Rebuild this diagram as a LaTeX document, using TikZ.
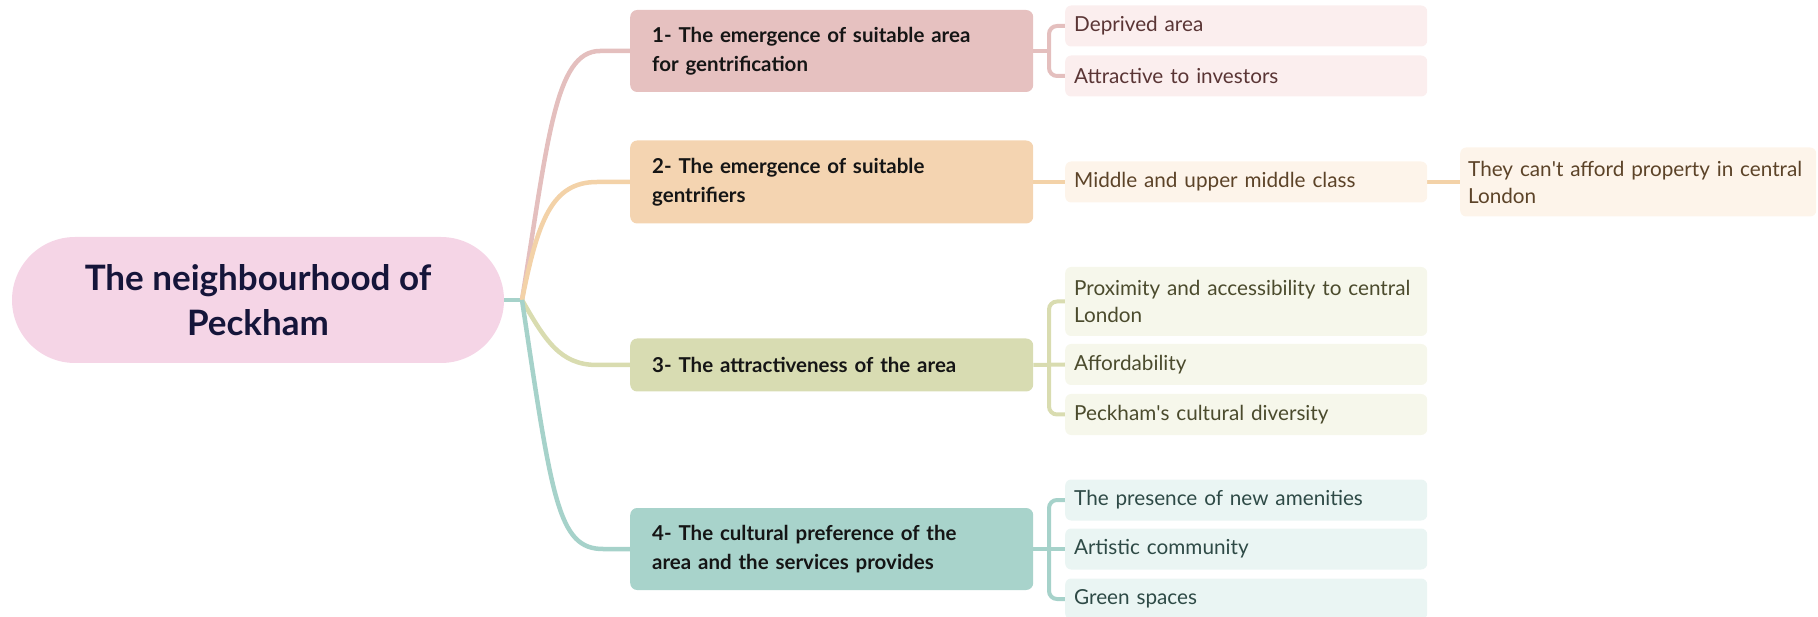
\documentclass[tikz,border=0pt]{standalone}
\usepackage{fontspec}
\setmainfont{Lato}
\usetikzlibrary{backgrounds}
\definecolor{cpink}{HTML}{F5D5E6}
\definecolor{ctext}{HTML}{15153A}
\definecolor{bone}{HTML}{E6C1C0}
\definecolor{btwo}{HTML}{F4D4B1}
\definecolor{bthree}{HTML}{D8DCB2}
\definecolor{bfour}{HTML}{A8D3CB}
\definecolor{lone}{HTML}{FBEEEE}
\definecolor{ltwo}{HTML}{FDF4EA}
\definecolor{lthree}{HTML}{F6F7EB}
\definecolor{lfour}{HTML}{EAF5F3}
\definecolor{tone}{HTML}{5A3535}
\definecolor{ttwo}{HTML}{5C4328}
\definecolor{tthree}{HTML}{4B4B2D}
\definecolor{tfour}{HTML}{2E4A46}
\definecolor{kone}{HTML}{E4BFBE}
\definecolor{ktwo}{HTML}{F3D2A8}
\definecolor{kthree}{HTML}{D9DCB0}
\definecolor{kfour}{HTML}{A6D2CA}
\definecolor{btext}{HTML}{151515}
\begin{document}
\begin{tikzpicture}[x=1pt,y=-1pt,
  centralbox/.style={rectangle, rounded corners=63pt, fill=cpink, minimum width=492pt, minimum height=126pt, align=center, text=ctext, font=\bfseries\fontsize{35}{45}\selectfont},
  branchbox/.style={rectangle, rounded corners=7pt, text width=359pt, inner xsep=22pt, inner ysep=0pt, align=left, anchor=west, text=btext, font=\bfseries\fontsize{20.5}{29.5}\selectfont},
  leafbox/.style={rectangle, rounded corners=6pt, text width=344pt, inner xsep=9pt, inner ysep=0pt, align=left, anchor=west, minimum height=41pt, font=\fontsize{20.7}{27}\selectfont},
  mainlink/.style={line width=4.5pt},
  leaflink/.style={line width=4pt, rounded corners=8pt}
]
\useasboundingbox (0,0) rectangle (1818,617);

\node[centralbox] (c) at (258,300) {The neighbourhood of\\Peckham};

\node[branchbox, fill=bone, minimum height=82pt] (b1) at (630,51) {1- The emergence of suitable area\\for gentrification};
\node[branchbox, fill=btwo, minimum height=83pt] (b2) at (630,182) {2- The emergence of suitable\\gentrifiers};
\node[branchbox, fill=bthree, minimum height=53pt] (b3) at (630,365) {3- The attractiveness of the area};
\node[branchbox, fill=bfour, minimum height=82pt] (b4) at (630,549) {4- The cultural preference of the\\area and the services provides};

\node[leafbox, fill=lone, text=tone] (l11) at (1065,26) {Deprived area};
\node[leafbox, fill=lone, text=tone] (l12) at (1065,76) {Attractive to investors};

\node[leafbox, fill=ltwo, text=ttwo] (l21) at (1065,182) {Middle and upper middle class};
\node[leafbox, fill=ltwo, text=ttwo, text width=340pt, inner xsep=8pt, minimum height=69pt] (l22) at (1460,182) {They can\textquotesingle t afford property in central\\London};

\node[leafbox, fill=lthree, text=tthree, minimum height=69pt] (l31) at (1065,301.5) {Proximity and accessibility to central\\London};
\node[leafbox, fill=lthree, text=tthree] (l32) at (1065,364.5) {Affordability};
\node[leafbox, fill=lthree, text=tthree] (l33) at (1065,414.5) {Peckham\textquotesingle s cultural diversity};

\node[leafbox, fill=lfour, text=tfour] (l41) at (1065,500) {The presence of new amenities};
\node[leafbox, fill=lfour, text=tfour] (l42) at (1065,549) {Artistic community};
\node[leafbox, fill=lfour, text=tfour] (l43) at (1065,599) {Green spaces};

\coordinate (j) at (522,300);

\begin{pgfonlayer}{background}
  \draw[mainlink, kfour] (c.east) -- (j);
  \draw[mainlink, kone] (j) .. controls +(26,-160) and +(-45,0) .. ([xshift=-30pt]b1.west) -- (b1.west);
  \draw[mainlink, ktwo] (j) .. controls +(16,-80) and +(-45,0) .. ([xshift=-33pt]b2.west) -- (b2.west);
  \draw[mainlink, kthree] (j) .. controls +(23,40) and +(-37,0) .. ([xshift=-33pt]b3.west) -- (b3.west);
  \draw[mainlink, kfour] (j) .. controls +(30,200) and +(-45,0) .. ([xshift=-27pt]b4.west) -- (b4.west);

  \draw[leaflink, kone] (b1.east) -- ([xshift=16pt]b1.east);
  \draw[leaflink, kone] (l11.west) -- ++(-16,0) |- (l12.west);

  \draw[leaflink, ktwo] (b2.east) -- (l21.west);
  \draw[leaflink, ktwo] (l21.east) -- (l22.west);

  \draw[leaflink, kthree] (b3.east) -- (l32.west);
  \draw[leaflink, kthree] (l31.west) -- ++(-16,0) |- (l33.west);

  \draw[leaflink, kfour] (b4.east) -- (l42.west);
  \draw[leaflink, kfour] (l41.west) -- ++(-16,0) |- (l43.west);
\end{pgfonlayer}
\end{tikzpicture}
\end{document}
